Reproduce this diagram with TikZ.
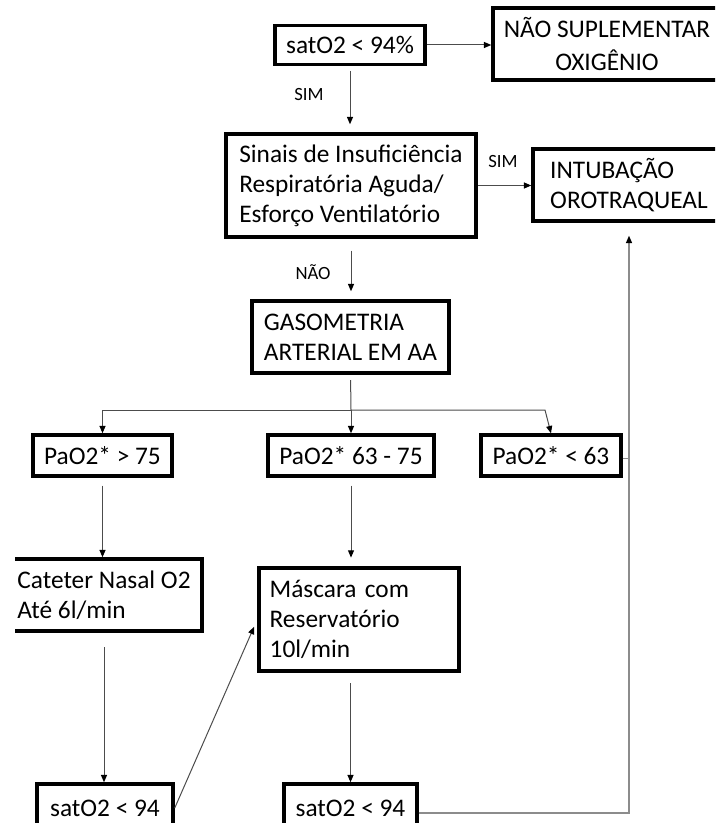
\documentclass[tikz,border=0pt]{standalone}
\usepackage{fontspec}
\setmainfont{Carlito}
\usetikzlibrary{arrows.meta}

\begin{document}
\begin{tikzpicture}[x=0.75pt, y=-0.75pt,
    caixa/.style={draw, line width=2.6pt, inner xsep=8pt, inner ysep=0pt, font=\fontsize{19}{22.5}\selectfont},
    rotulo/.style={font=\fontsize{14}{17}\selectfont},
    seta/.style={draw=black!70, line width=0.75pt, -{Triangle[length=5.5pt, width=4.5pt, color=black]}},
    linha/.style={draw=black!45, line width=0.9pt}]
    \useasboundingbox (0, 0) rectangle (715, 823);
    \clip (0, 0) rectangle (715, 823);

    % topo
    \node[caixa, minimum width=112.5pt, minimum height=29.25pt] (sat) at (350, 45) {satO2 < 94\%};
    \node[caixa, minimum width=171pt, minimum height=54pt, align=center] (naosup) at (607, 44) {NÃO SUPLEMENTAR\\[2.5pt]OXIGÊNIO};
    \node[caixa, minimum width=187.5pt, minimum height=77.25pt, align=left] (sinais) at (351, 185.5) {Sinais de Insuficiência\\Respiratória Aguda/\\Esforço Ventilatório};
    \node[caixa, minimum width=144pt, minimum height=54pt, align=left] (intub) at (629, 185) {INTUBAÇÃO\\OROTRAQUEAL};
    \node[caixa, minimum width=147.75pt, minimum height=54pt, align=left] (gaso) at (350.5, 337) {GASOMETRIA\\ARTERIAL EM AA};

    % faixas de PaO2
    \node[caixa, minimum width=104.25pt, minimum height=30.75pt] (pa1) at (102.5, 455.5) {PaO2* > 75};
    \node[caixa, minimum width=124.5pt, minimum height=30.75pt] (pa2) at (351, 455.5) {PaO2* 63 - 75};
    \node[caixa, minimum width=105pt, minimum height=30.75pt] (pa3) at (551, 455.5) {PaO2* < 63};

    % oferta de O2 (caixa da esquerda cortada)
    \begin{scope}
        \clip (15, 0) rectangle (715, 823);
        \node[caixa, minimum width=147pt, minimum height=54pt, align=left] (cateter) at (104, 595) {Cateter Nasal O2\\Até 6l/min};
    \end{scope}
    \node[caixa, minimum width=150pt, minimum height=77.25pt, text width=134pt, align=left] (mascara) at (359, 619.5) {Máscara com\\Reservatório\\10l/min};

    % reavaliação
    \node[caixa, minimum width=102pt, minimum height=36pt] (satL) at (105, 808) {satO2 < 94};
    \node[caixa, minimum width=99.75pt, minimum height=36pt] (satR) at (350.5, 808) {satO2 < 94};

    % rótulos das setas
    \node[rotulo] (sim1) at (309, 95) {SIM};
    \node[rotulo] (sim2) at (503, 162) {SIM};
    \node[rotulo] (nao) at (313, 272) {NÃO};

    % setas
    \draw[seta] (sat.east) -- (sat.east -| naosup.west);
    \draw[seta, shorten <=3.5pt, shorten >=6pt] (sat.south) -- (sat.south |- sinais.north);
    \draw[seta] (sinais.east) -- (sinais.east -| intub.west);
    \draw[seta, shorten <=9pt, shorten >=6pt] (sinais.south) -- (sinais.south |- gaso.north);

    \coordinate (div) at (351, 410);
    \coordinate (dobra) at (545, 410);
    \draw[draw=black!70, line width=0.75pt, shorten <=4pt] (gaso.south) -- (div);
    \draw[seta] (div) -| (pa1.north);
    \draw[seta] (div) -- (pa2.north);
    \draw[seta] (div) -- (dobra) -- (pa3.north);

    \draw[seta, shorten <=6pt] (pa1.south) -- (pa1.south |- cateter.north);
    \draw[seta, shorten <=6pt, shorten >=6.5pt] (pa2.south) -- (pa2.south |- mascara.north);
    \draw[seta, shorten <=11pt] (cateter.south) -- (cateter.south |- satL.north);
    \draw[seta, shorten >=6pt] (satL.east) -- (mascara.west);
    \draw[seta, shorten <=8pt] (satR.north |- mascara.south) -- (satR.north);

    % retorno para intubação
    \draw[linha, -{Triangle[length=5.5pt, width=4.5pt, color=black]}, shorten >=9.75pt] ([yshift=-3.75pt]satR.east) -| (intub.south);
    \draw[linha] ([yshift=-2.5pt]pa3.east) -- ([yshift=-2.5pt]pa3.east -| intub.south);
\end{tikzpicture}
\end{document}
